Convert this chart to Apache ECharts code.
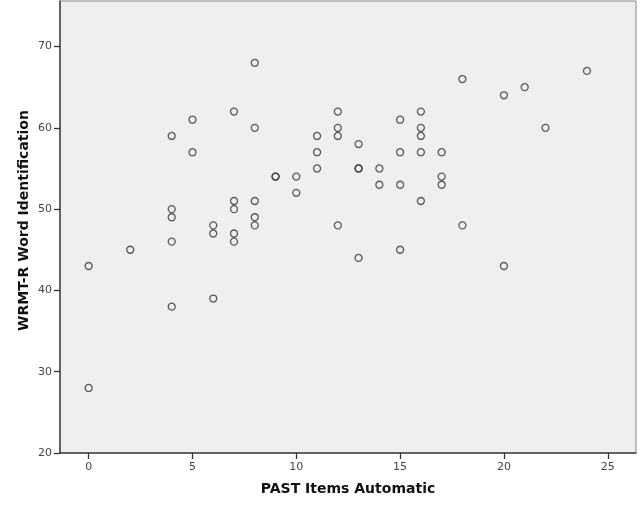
<!DOCTYPE html>
<html>
<head>
  <meta charset="utf-8">
  <script src="https://cdn.jsdelivr.net/npm/echarts@6/dist/echarts.min.js"></script>
  <style>
    html, body { margin: 0; height: 100%; background: #fff; }
    #chart { width: 641px; height: 508px; }
  </style>
</head>
<body>
  <div id="chart"></div>
  <script>
    // PAST items automatic (x) and WRMT-R word identification (y), one entry per child
    var pastItems = [0, 0, 2, 4, 4, 4, 4, 4, 5, 5, 6, 6, 6, 7, 7, 7, 7, 7,
      8, 8, 8, 8, 8, 9, 9, 10, 10, 11, 11, 11, 12, 12, 12, 12, 13, 13, 13, 13,
      14, 14, 15, 15, 15, 15, 16, 16, 16, 16, 16, 17, 17, 17, 18, 18, 20, 20, 21, 22, 24];
    var wrmtScores = [43, 28, 45, 59, 50, 49, 46, 38, 61, 57, 48, 47, 39, 62, 51, 50, 47, 46,
      68, 60, 51, 49, 48, 54, 54, 54, 52, 59, 57, 55, 62, 60, 59, 48, 58, 55, 55, 44,
      55, 53, 61, 57, 53, 45, 62, 60, 59, 57, 51, 57, 54, 53, 66, 48, 64, 43, 65, 60, 67];
    var xTicks = [0, 5, 10, 15, 20, 25];
    var yTicks = [20, 30, 40, 50, 60, 70];

    var points = pastItems.map(function (x, i) { return [x, wrmtScores[i]]; });

    var chart = echarts.init(document.getElementById('chart'));
    var labelStyle = { color: '#444', fontSize: 11, fontFamily: 'DejaVu Sans' };
    var titleStyle = { color: '#111', fontSize: 14, fontWeight: 'bold', fontFamily: 'DejaVu Sans' };

    chart.setOption({
      animation: false,
      grid: {
        left: 60, top: 1, right: 5, bottom: 55,
        show: true, backgroundColor: '#efefef', borderColor: '#888', borderWidth: 1
      },
      xAxis: {
        type: 'value', min: -1.38, max: 26.36,
        name: 'PAST Items Automatic', nameLocation: 'middle', nameGap: 29, nameMoveOverlap: false,
        nameTextStyle: titleStyle,
        axisLine: { show: true, onZero: false, lineStyle: { color: '#444', width: 1.5 } },
        axisTick: { show: true, length: 6, customValues: xTicks, lineStyle: { color: '#333', width: 1.3 } },
        axisLabel: Object.assign({ margin: 9, customValues: xTicks }, labelStyle),
        splitLine: { show: false }
      },
      yAxis: {
        type: 'value', min: 20, max: 75.6,
        name: 'WRMT-R Word Identification', nameLocation: 'middle', nameGap: 29, nameMoveOverlap: false,
        nameTextStyle: Object.assign({ padding: [0, 0, 0, 13] }, titleStyle),
        axisLine: { show: true, onZero: false, lineStyle: { color: '#444', width: 1.5 } },
        axisTick: { show: true, length: 6, customValues: yTicks, lineStyle: { color: '#333', width: 1.3 } },
        axisLabel: Object.assign({ margin: 8, customValues: yTicks }, labelStyle),
        splitLine: { show: false }
      },
      series: [{
        type: 'scatter',
        data: points,
        symbol: 'circle',
        symbolSize: 7,
        itemStyle: { color: 'rgba(0,0,0,0)', borderColor: '#333', borderWidth: 1.3 }
      }]
    });
  </script>
</body>
</html>
